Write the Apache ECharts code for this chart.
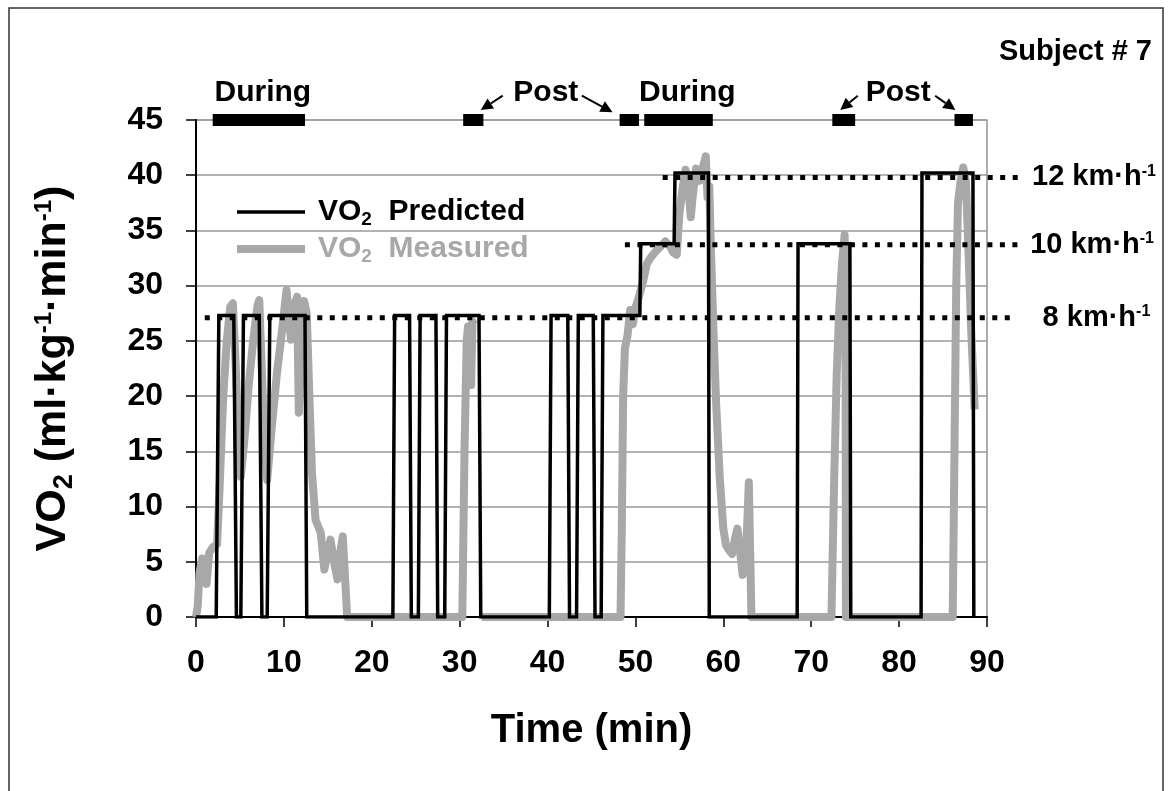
<!DOCTYPE html>
<html>
<head>
<meta charset="utf-8">
<title>VO2 predicted vs measured - Subject 7</title>
<script src="https://cdn.jsdelivr.net/npm/echarts/dist/echarts.min.js"></script>
<style>
  html, body { margin: 0; padding: 0; background: #fff; }
  #chart { width: 1173px; height: 791px; }
</style>
</head>
<body>
<div id="chart"></div>
<script>
// ---- data (time in min, VO2 in ml/kg/min) ----
const predicted = [
  [0, 0], [2.3, 0], [2.6, 27.3], [4.3, 27.3], [4.6, 0], [5.1, 0], [5.4, 27.3], [7.2, 27.3], [7.5, 0],
  [8.1, 0], [8.4, 27.3], [12.4, 27.3], [12.6, 0], [22.4, 0], [22.6, 27.3], [24.3, 27.3], [24.5, 0],
  [25.3, 0], [25.5, 27.3], [27.3, 27.3], [27.5, 0], [28.3, 0], [28.5, 27.3], [32.2, 27.3], [32.4, 0],
  [40.2, 0], [40.4, 27.3], [42.3, 27.3], [42.5, 0], [43.3, 0], [43.5, 27.3], [45.2, 27.3], [45.4, 0],
  [46.1, 0], [46.3, 27.3], [50.5, 27.3], [50.6, 33.8], [54.4, 33.8], [54.5, 40.2], [58.3, 40.2],
  [58.4, 0], [68.4, 0], [68.5, 33.8], [74.4, 33.8], [74.5, 0], [82.5, 0], [82.6, 40.2], [88.4, 40.2],
  [88.5, 0]
];

const measured = [
  [0, 0], [0.2, 1], [0.4, 4.0], [0.7, 5.3], [1.0, 4.6], [1.2, 3.0], [1.5, 5.8], [1.9, 6.3], [2.4, 6.6],
  [2.7, 12], [3.1, 20], [3.5, 25], [3.9, 28.1], [4.2, 28.4], [4.5, 23], [4.8, 17], [5.1, 12.7],
  [5.5, 16], [6.0, 21], [6.5, 25], [7.0, 28.2], [7.2, 28.7], [7.5, 22], [7.8, 16], [8.1, 12.4],
  [8.6, 17], [9.2, 22], [9.8, 26], [10.3, 29.6], [10.6, 27], [10.8, 25.1], [11.1, 28], [11.5, 29.0],
  [11.7, 18.5], [12.0, 24], [12.3, 28.6], [12.6, 27.5], [12.9, 20], [13.2, 13], [13.6, 8.8],
  [14.0, 8.0], [14.2, 7.6], [14.6, 4.3], [15.0, 6], [15.3, 7.0], [15.7, 5], [16.1, 3.4], [16.4, 5.8],
  [16.7, 7.3], [17.0, 3.0], [17.2, 0], [30.3, 0], [30.55, 15], [30.8, 25], [30.95, 26.3], [31.05, 24],
  [31.3, 21], [31.45, 26.8], [31.6, 26.5], [31.65, '-'], [32.5, 0], [48.3, 0], [48.45, 8], [48.6, 20],
  [48.8, 24.3], [49.1, 25.5], [49.4, 27.8], [49.7, 26.5], [50.0, 28], [50.4, 29], [50.9, 30.5],
  [51.3, 32], [51.7, 32.5], [52.2, 33], [52.8, 33.5], [53.4, 34], [53.9, 33.6], [54.3, 33], [54.7, 32.8],
  [55.0, 36.5], [55.4, 39], [55.7, 40.5], [56.0, 39], [56.3, 36.2], [56.5, 38], [56.9, 40.6],
  [57.3, 39.5], [57.7, 40.8], [58.0, 41.7], [58.2, 38], [58.4, 39], [58.6, 33], [58.9, 25.4],
  [59.2, 19], [59.6, 12.5], [60.0, 8], [60.3, 6.5], [60.7, 6.0], [61.0, 5.7], [61.3, 7.0], [61.6, 8.0],
  [61.9, 6], [62.2, 3.8], [62.5, 5], [62.7, 8], [62.9, 12.2], [63.05, 6], [63.2, 0], [72.3, 0],
  [72.6, 12], [72.9, 22], [73.2, 28], [73.5, 32], [73.8, 34.6], [73.9, 30], [73.95, 0], [86.1, 0],
  [86.3, 15], [86.5, 30], [86.7, 37.5], [87.0, 39.5], [87.3, 40.7], [87.6, 39.5], [87.9, 33],
  [88.2, 26], [88.6, 18.8]
];

// speed reference lines: [start time, end time, VO2 level]
const speedLines = [[1.0, 92.8, 27.1], [48.8, 94.0, 33.7], [53.1, 94.1, 39.8]];
const speedNames = ['8', '10', '12'];

// phase markers along the top of the plot
const phaseBars = [[1.9, 12.4], [30.4, 32.7], [48.2, 50.4], [51.0, 58.8], [72.4, 75.0], [86.3, 88.4]];
const phaseNames = ['During', 'Post', 'During', 'Post'];
const phaseNamePos = [[7.6, 47.5], [39.8, 47.5], [55.9, 47.5], [79.9, 47.5]];
const phaseArrows = [
  [34.9, 47.2, 32.4, 45.9],
  [43.9, 47.2, 47.4, 45.7],
  [75.3, 47.2, 73.3, 45.9],
  [84.1, 47.2, 86.4, 45.9]
];

const xTicks = { min: 0, max: 90, step: 10 };
const yTicks = { min: 0, max: 45, step: 5 };

const FONT = '"Liberation Sans", Arial, sans-serif';
const GREY = '#a8a8a8';
const speedLabelGap = [31, 8, 9];

function richSet(size) {
  return {
    a: { fontSize: size, fontWeight: 'bold', fontFamily: FONT, lineHeight: size + 2 },
    f: { fontSize: size, fontWeight: 'bold', fontFamily: FONT, lineHeight: size + 2, padding: [0, 0, 0, 8] },
    sub: { fontSize: Math.round(size * 0.62), fontWeight: 'bold', fontFamily: FONT, padding: [Math.round(size * 0.5), 0, 0, 0] },
    sup: { fontSize: Math.round(size * 0.55), fontWeight: 'bold', fontFamily: FONT, padding: [0, 0, Math.round(size * 0.42), 0] }
  };
}

const chart = echarts.init(document.getElementById('chart'));

const option = {
  animation: false,
  backgroundColor: '#fff',
  title: {
    text: 'Subject # 7',
    right: 16,
    top: 32,
    textStyle: { fontSize: 29, fontWeight: 'bold', fontFamily: FONT, color: '#000' }
  },
  graphic: [{
    type: 'rect',
    shape: { x: 9, y: 8, width: 1154, height: 800 },
    style: { fill: 'none', stroke: '#333', lineWidth: 1.5 },
    silent: true
  }],
  grid: {
    left: 196, right: 186, top: 120, bottom: 174,
    show: true, borderColor: '#777', borderWidth: 1.2
  },
  legend: {
    orient: 'vertical',
    left: 232,
    top: 192,
    itemWidth: 68,
    itemHeight: 14,
    itemGap: 5,
    symbolKeepAspect: true,
    itemStyle: { borderWidth: 0 },
    selectedMode: false,
    data: [
      { name: 'VO2 Predicted', icon: 'path://M0,0M0,14M0,5.3H68V8.7H0Z', textStyle: { color: '#000' } },
      { name: 'VO2 Measured', icon: 'path://M0,0M0,14M0,3H68V11H0Z', textStyle: { color: GREY } }
    ],
    formatter: function (name) {
      return '{f|VO}{sub|2}{a|  ' + name.replace('VO2 ', '') + '}';
    },
    textStyle: { fontSize: 30, fontWeight: 'bold', fontFamily: FONT, rich: richSet(30) }
  },
  xAxis: {
    type: 'value',
    min: xTicks.min, max: xTicks.max, interval: xTicks.step,
    name: 'Time (min)',
    nameLocation: 'middle',
    nameGap: 94,
    nameTextStyle: { fontSize: 40, fontWeight: 'bold', fontFamily: FONT, color: '#000' },
    axisLine: { onZero: false, lineStyle: { color: '#000', width: 2 } },
    axisTick: { show: true, inside: false, length: 10, lineStyle: { color: '#000', width: 1.5 } },
    axisLabel: { margin: 30, fontSize: 32, fontWeight: 'bold', fontFamily: FONT, color: '#000' },
    splitLine: { show: false }
  },
  yAxis: {
    type: 'value',
    min: yTicks.min, max: yTicks.max, interval: yTicks.step,
    name: '{a|VO}{sub|2}{a| (ml·kg}{sup|-1}{a|·min}{sup|-1}{a|)}',
    nameLocation: 'middle',
    nameGap: 118,
    nameTextStyle: { color: '#000', rich: richSet(43) },
    axisLine: { show: true, lineStyle: { color: '#000', width: 2 } },
    axisTick: { show: true, inside: false, length: 10, lineStyle: { color: '#000', width: 1.5 } },
    axisLabel: { margin: 33, fontSize: 32, fontWeight: 'bold', fontFamily: FONT, color: '#000' },
    splitLine: { show: true, lineStyle: { color: '#9a9a9a', width: 1.5 } }
  },
  series: [
    {
      name: 'VO2 Measured',
      type: 'line',
      data: measured,
      symbol: 'none',
      connectNulls: false,
      z: 2,
      itemStyle: { color: GREY },
      lineStyle: { color: GREY, width: 8, join: 'round' }
    },
    {
      type: 'custom',
      silent: true,
      z: 4,
      data: speedLines,
      renderItem: function (params, api) {
        const a = api.coord([api.value(0), api.value(2)]);
        const b = api.coord([api.value(1), api.value(2)]);
        const i = params.dataIndex;
        return {
          type: 'group',
          children: [
            {
              type: 'line',
              shape: { x1: a[0], y1: a[1], x2: b[0], y2: b[1] },
              style: { stroke: '#000', lineWidth: 5, lineDash: [5, 7.5] }
            },
            {
              type: 'text',
              x: b[0] + speedLabelGap[i], y: b[1],
              style: {
                text: '{a|' + speedNames[i] + ' km·h}{sup|-1}',
                rich: richSet(29),
                fill: '#000',
                verticalAlign: 'middle', align: 'left'
              }
            }
          ]
        };
      }
    },
    {
      name: 'VO2 Predicted',
      type: 'line',
      data: predicted,
      symbol: 'none',
      z: 5,
      itemStyle: { color: '#000' },
      lineStyle: { color: '#000', width: 3.5, join: 'miter' }
    },
    {
      type: 'custom',
      silent: true,
      z: 6,
      data: phaseBars,
      renderItem: function (params, api) {
        const p1 = api.coord([api.value(0), yTicks.max]);
        const p2 = api.coord([api.value(1), yTicks.max]);
        return {
          type: 'rect',
          shape: { x: p1[0], y: p1[1] - 6, width: p2[0] - p1[0], height: 12 },
          style: { fill: '#000' }
        };
      }
    },
    {
      type: 'custom',
      silent: true,
      z: 6,
      data: phaseNamePos,
      renderItem: function (params, api) {
        const p = api.coord([api.value(0), api.value(1)]);
        return {
          type: 'text',
          x: p[0], y: p[1],
          style: {
            text: phaseNames[params.dataIndex],
            align: 'center', verticalAlign: 'middle',
            font: 'bold 30px ' + FONT, fill: '#000'
          }
        };
      }
    },
    {
      type: 'custom',
      silent: true,
      z: 6,
      data: phaseArrows,
      renderItem: function (params, api) {
        const a = api.coord([api.value(0), api.value(1)]);
        const b = api.coord([api.value(2), api.value(3)]);
        const ang = Math.atan2(b[1] - a[1], b[0] - a[0]);
        const L = 12, W = 6;
        const bx = b[0] - L * Math.cos(ang), by = b[1] - L * Math.sin(ang);
        const nx = -Math.sin(ang) * W, ny = Math.cos(ang) * W;
        return {
          type: 'group',
          children: [
            { type: 'line', shape: { x1: a[0], y1: a[1], x2: bx, y2: by }, style: { stroke: '#000', lineWidth: 2 } },
            { type: 'polygon', shape: { points: [[b[0], b[1]], [bx + nx, by + ny], [bx - nx, by - ny]] }, style: { fill: '#000' } }
          ]
        };
      }
    }
  ]
};

chart.setOption(option);
</script>
</body>
</html>
